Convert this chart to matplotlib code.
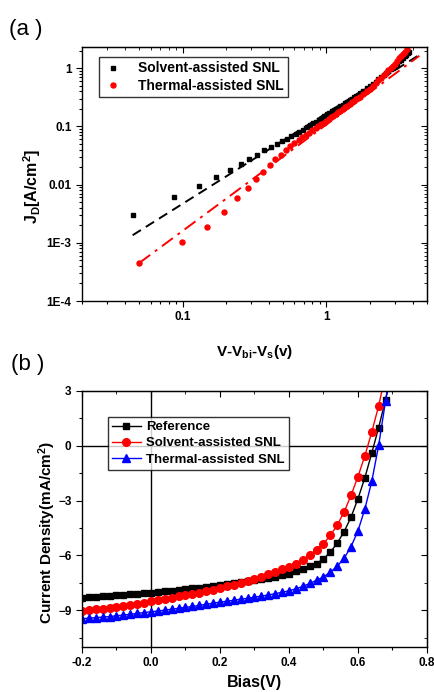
import matplotlib
matplotlib.use("Agg")
import matplotlib.pyplot as plt
from matplotlib.ticker import (FixedLocator, FixedFormatter, MultipleLocator,
                               NullFormatter, FormatStrFormatter)

plt.rcParams['font.family'] = ['Liberation Sans', 'DejaVu Sans']
plt.rcParams['font.weight'] = 'bold'
plt.rcParams['mathtext.fontset'] = 'custom'
plt.rcParams['mathtext.rm'] = 'Liberation Sans:bold'
plt.rcParams['mathtext.bf'] = 'Liberation Sans:bold'
plt.rcParams['mathtext.default'] = 'bf'

# (a) J_D vs V-Vbi-Vs, log-log
solv_x = [0.045, 0.0875, 0.131, 0.172, 0.213, 0.253, 0.29, 0.33, 0.37, 0.41,
          0.45, 0.49, 0.53, 0.57, 0.61, 0.65, 0.69, 0.73, 0.77, 0.81,
          0.85, 0.89, 0.93, 0.97, 1.01, 1.05, 1.09, 1.13, 1.17, 1.21,
          1.25, 1.3, 1.35, 1.4, 1.45, 1.5, 1.55, 1.6, 1.65, 1.7,
          1.8, 1.9, 2.0, 2.1, 2.2, 2.3, 2.4, 2.5, 2.6, 2.7,
          2.8, 2.9, 3.0, 3.1, 3.2, 3.3, 3.4, 3.5, 3.6, 3.7, 3.78]
solv_j = [0.00296, 0.0061, 0.0096, 0.0135, 0.0175, 0.0225, 0.0272, 0.0318, 0.0385, 0.0437,
          0.049, 0.055, 0.0617, 0.067, 0.074, 0.081, 0.088, 0.096, 0.104, 0.113,
          0.121, 0.13, 0.14, 0.15, 0.16, 0.17, 0.18, 0.19, 0.20, 0.21,
          0.22, 0.235, 0.25, 0.265, 0.28, 0.30, 0.32, 0.335, 0.35, 0.37,
          0.41, 0.45, 0.49, 0.53, 0.58, 0.64, 0.70, 0.76, 0.82, 0.88,
          0.95, 1.02, 1.10, 1.2, 1.3, 1.4, 1.5, 1.6, 1.7, 1.8, 1.86]
therm_x = [0.05, 0.0995, 0.148, 0.195, 0.24, 0.283, 0.325, 0.365, 0.404, 0.44,
           0.48, 0.52, 0.56, 0.60, 0.64, 0.68, 0.72, 0.76, 0.80, 0.84,
           0.88, 0.92, 0.96, 1.0, 1.04, 1.08, 1.12, 1.16, 1.2, 1.25,
           1.3, 1.35, 1.4, 1.45, 1.5, 1.55, 1.6, 1.65, 1.7, 1.8,
           1.9, 2.0, 2.1, 2.2, 2.3, 2.4, 2.5, 2.6, 2.7, 2.8,
           2.9, 3.0, 3.1, 3.2, 3.3, 3.4, 3.5, 3.63]
therm_j = [4.5e-4, 1.02e-3, 1.9e-3, 3.4e-3, 5.8e-3, 8.75e-3, 0.0123, 0.0166, 0.0214, 0.027,
           0.0326, 0.0385, 0.0452, 0.051, 0.058, 0.065, 0.071, 0.078, 0.085, 0.093,
           0.10, 0.108, 0.116, 0.125, 0.134, 0.143, 0.153, 0.163, 0.173, 0.186,
           0.20, 0.213, 0.228, 0.243, 0.258, 0.27, 0.29, 0.305, 0.32, 0.36,
           0.40, 0.44, 0.49, 0.56, 0.62, 0.69, 0.76, 0.84, 0.92, 1.0,
           1.1, 1.2, 1.33, 1.47, 1.6, 1.75, 1.9, 2.12]
# linear fits (end points)
fit_solv_x = [0.045, 4.43]
fit_solv_j = [1.35e-3, 1.69]
fit_therm_x = [0.05, 4.43]
fit_therm_j = [4.5e-4, 1.63]

# (b) J-V curves
bias = [-0.20, -0.18, -0.16, -0.14, -0.12, -0.10, -0.08, -0.06, -0.04, -0.02,
        0.00, 0.02, 0.04, 0.06, 0.08, 0.10, 0.12, 0.14, 0.16, 0.18,
        0.20, 0.22, 0.24, 0.26, 0.28, 0.30, 0.32, 0.34, 0.36, 0.38,
        0.40, 0.42, 0.44, 0.46, 0.48, 0.50, 0.52, 0.54, 0.56, 0.58,
        0.60, 0.62, 0.64, 0.66, 0.68, 0.70]
ref_j = [-8.32, -8.29, -8.27, -8.24, -8.22, -8.19, -8.16, -8.13, -8.10, -8.08,
         -8.05, -8.01, -7.97, -7.93, -7.89, -7.85, -7.81, -7.77, -7.73, -7.67,
         -7.61, -7.57, -7.52, -7.47, -7.42, -7.36, -7.30, -7.23, -7.16, -7.08,
         -7.00, -6.88, -6.74, -6.59, -6.45, -6.19, -5.83, -5.32, -4.70, -3.90,
         -2.90, -1.75, -0.40, 1.00, 2.53, 4.1]
solvb_j = [-9.05, -9.00, -8.95, -8.91, -8.87, -8.83, -8.78, -8.72, -8.66, -8.59,
           -8.52, -8.45, -8.38, -8.32, -8.25, -8.18, -8.11, -8.04, -7.96, -7.88,
           -7.80, -7.70, -7.60, -7.49, -7.39, -7.29, -7.17, -7.03, -6.89, -6.76,
           -6.63, -6.45, -6.23, -5.99, -5.68, -5.36, -4.90, -4.34, -3.62, -2.71,
           -1.69, -0.55, 0.75, 2.19, 3.9]
thermb_j = [-9.47, -9.44, -9.41, -9.38, -9.35, -9.31, -9.27, -9.23, -9.18, -9.13,
            -9.09, -9.05, -9.00, -8.95, -8.90, -8.85, -8.80, -8.74, -8.68, -8.62,
            -8.56, -8.51, -8.46, -8.40, -8.35, -8.29, -8.23, -8.17, -8.10, -8.02,
            -7.94, -7.83, -7.70, -7.54, -7.36, -7.18, -6.92, -6.59, -6.16, -5.52,
            -4.66, -3.46, -1.95, 0.02, 2.46, 4.9]

fig = plt.figure(figsize=(4.35, 6.92), dpi=100)

# ---- panel (a)
ax1 = fig.add_axes([0.1885, 0.565, 0.793, 0.367])
ax1.set_xscale('log')
ax1.set_yscale('log')
ax1.plot(fit_solv_x, fit_solv_j, color='black', ls=(0, (5, 3)), lw=1.4)
ax1.plot(fit_therm_x, fit_therm_j, color='red', ls=(0, (7, 3, 1.5, 3)), lw=1.4)
ax1.plot(solv_x, solv_j, 's', color='black', ms=3.2, mec='black', label='Solvent-assisted SNL')
ax1.plot(therm_x, therm_j, 'o', color='red', ms=3.6, mec='red', label='Thermal-assisted SNL')
ax1.set_xlim(0.02, 5)
ax1.set_ylim(1e-4, 2.3)
ax1.yaxis.set_major_locator(FixedLocator([1e-4, 1e-3, 1e-2, 0.1, 1]))
ax1.yaxis.set_major_formatter(FixedFormatter(['1E-4', '1E-3', '0.01', '0.1', '1']))
ax1.xaxis.set_major_locator(FixedLocator([0.1, 1]))
ax1.xaxis.set_major_formatter(FixedFormatter(['0.1', '1']))
ax1.xaxis.set_minor_formatter(NullFormatter())
ax1.tick_params(which='both', direction='out', labelsize=8.5, width=0.8)
ax1.tick_params(which='major', length=4)
ax1.tick_params(which='minor', length=2.5)
for s in ax1.spines.values():
    s.set_linewidth(1.0)
top1 = ax1.secondary_xaxis('top')
top1.tick_params(which='both', direction='in', labeltop=False)
top1.tick_params(which='major', length=4)
top1.tick_params(which='minor', length=2.5)
right1 = ax1.secondary_yaxis('right')
right1.tick_params(which='both', direction='in', labelright=False)
right1.tick_params(which='major', length=4)
right1.tick_params(which='minor', length=2.5)
ax1.set_xlabel('V-V$_{bi}$-V$_{s}$(v)', fontsize=11, fontweight='bold')
ax1.xaxis.set_label_coords(0.5, -0.165)
ax1.set_ylabel('J$_{D}$[A/cm$^{2}$]', fontsize=11.5, fontweight='bold')
ax1.yaxis.set_label_coords(-0.114, 0.45)
leg1 = ax1.legend(loc='upper left', bbox_to_anchor=(0.049, 0.96), fontsize=10, frameon=True,
                  fancybox=False, edgecolor='black', handletextpad=1.0, borderpad=0.3,
                  labelspacing=0.25, markerscale=1.0, handlelength=1.5, borderaxespad=0)
leg1.get_frame().set_linewidth(1.0)
fig.text(0.02, 0.957, '(a )', fontsize=16, fontweight='normal', va='center')

# ---- panel (b)
ax2 = fig.add_axes([0.1885, 0.0655, 0.793, 0.3695])
ax2.axhline(0, color='black', lw=1.0)
ax2.axvline(0, color='black', lw=1.0)
ax2.plot(bias, ref_j, '-', color='black', lw=1.0, marker='s', ms=5, markevery=slice(0, 45),
         label='Reference')
ax2.plot(bias[:45], solvb_j, '-', color='red', lw=1.0, marker='o', ms=5.5, markevery=slice(0, 44),
         label='Solvent-assisted SNL')
ax2.plot(bias, thermb_j, '-', color='blue', lw=1.0, marker='^', ms=5.5, markevery=slice(0, 45),
         label='Thermal-assisted SNL')
ax2.set_xlim(-0.2, 0.8)
ax2.set_ylim(-11, 3)
ax2.xaxis.set_major_locator(FixedLocator([-0.2, 0.0, 0.2, 0.4, 0.6, 0.8]))
ax2.xaxis.set_minor_locator(MultipleLocator(0.1))
ax2.xaxis.set_major_formatter(FormatStrFormatter('%.1f'))
ax2.yaxis.set_major_locator(FixedLocator([-9, -6, -3, 0, 3]))
ax2.yaxis.set_minor_locator(MultipleLocator(1.5))
ax2.tick_params(which='both', direction='out', labelsize=8.5, width=0.8)
ax2.tick_params(which='major', length=4)
ax2.tick_params(which='minor', length=2.5)
for s in ax2.spines.values():
    s.set_linewidth(1.0)
top2 = ax2.secondary_xaxis('top')
top2.xaxis.set_major_locator(FixedLocator([-0.2, 0.0, 0.2, 0.4, 0.6, 0.8]))
top2.xaxis.set_minor_locator(MultipleLocator(0.1))
top2.tick_params(which='both', direction='in', labeltop=False)
top2.tick_params(which='major', length=4)
top2.tick_params(which='minor', length=2.5)
right2 = ax2.secondary_yaxis('right')
right2.yaxis.set_major_locator(FixedLocator([-9, -6, -3, 0, 3]))
right2.yaxis.set_minor_locator(MultipleLocator(1.5))
right2.tick_params(which='both', direction='in', labelright=False)
right2.tick_params(which='major', length=4)
right2.tick_params(which='minor', length=2.5)
ax2.set_xlabel('Bias(V)', fontsize=11.5, fontweight='bold')
ax2.xaxis.set_label_coords(0.5, -0.11)
ax2.set_ylabel('Current Density(mA/cm$^{2}$)', fontsize=11, fontweight='bold')
ax2.yaxis.set_label_coords(-0.07, 0.445)
leg2 = ax2.legend(loc='upper left', bbox_to_anchor=(0.075, 0.898), fontsize=9.5, frameon=True,
                  fancybox=False, edgecolor='black', handletextpad=0.4, borderpad=0.3,
                  labelspacing=0.3, handlelength=2.2, borderaxespad=0)
leg2.get_frame().set_linewidth(1.0)
fig.text(0.025, 0.473, '(b )', fontsize=16, fontweight='normal', va='center')

fig.savefig('out.png', dpi=100)
